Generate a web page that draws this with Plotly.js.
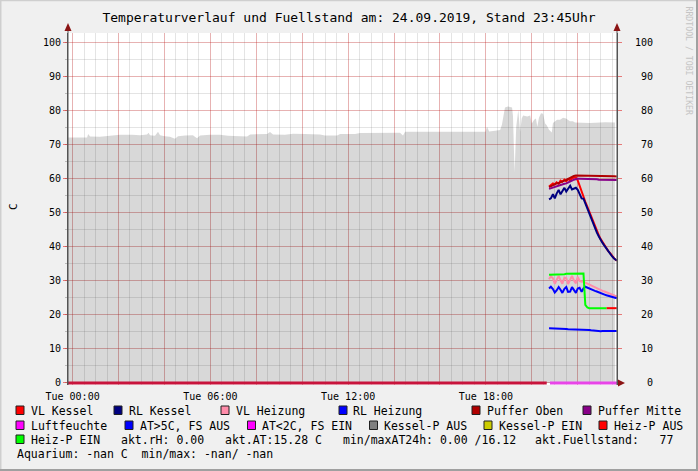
<!DOCTYPE html>
<html><head><meta charset="utf-8">
<script src="https://cdn.plot.ly/plotly-3.0.1.min.js"></script>
<style>html,body{margin:0;padding:0;background:#f0f0f0;}#chart{width:698px;height:471px;}</style>
</head><body><div id="chart"></div>
<script>
// ---------- DATA ----------
const chartTitle = 'Temperaturverlauf und Fuellstand am: 24.09.2019, Stand 23:45Uhr';
const yTitle = 'C';
const watermark = 'RRDTOOL / TOBI OETIKER';

// fill level (grey area), hours of the day
const areaHours = [-0.2,0.32,0.63,0.68,0.76,1.19,1.50,1.85,2.06,2.59,2.94,3.24,3.31,3.37,3.59,3.72,3.81,4.02,4.24,4.46,4.59,4.90,5.24,5.42,5.55,5.98,6.42,6.77,7.29,7.60,7.73,8.16,8.47,8.60,8.73,9.25,9.60,10.12,10.78,10.99,11.52,11.65,12.30,12.52,13.39,14.26,14.39,14.48,15.57,16.88,17.74,17.98,18.05,18.14,18.40,18.62,18.70,18.77,18.83,18.96,19.14,19.18,19.25,19.32,19.41,19.49,19.56,19.62,19.80,19.93,20.00,20.10,20.18,20.24,20.31,20.40,20.49,20.58,20.65,20.75,20.87,20.92,21.10,21.23,21.36,21.49,21.66,21.79,21.88,22.53,23.19,23.62];
const areaLevel = [72.2,72.2,72.2,73.2,72.5,72.4,72.6,72.8,73.0,73.0,72.9,73.1,73.6,72.9,72.7,73.9,72.9,72.6,72.4,71.8,72.6,72.8,72.9,72.0,72.8,73.0,73.0,72.7,72.6,72.5,73.1,73.1,73.2,73.8,73.1,73.0,73.3,73.2,73.1,72.8,72.8,73.2,73.2,73.5,73.6,73.6,72.8,73.9,73.9,74.0,73.9,73.9,75.4,74.0,74.2,74.4,76.0,79.5,81.0,81.3,81.0,78.5,62.0,75.4,80.3,73.9,77.8,78.7,78.4,78.7,76.3,77.4,77.8,75.4,78.0,79.3,79.2,76.3,75.8,74.5,73.7,76.5,77.4,77.4,78.0,77.8,77.0,77.0,76.6,76.5,76.7,76.6];

// temperature lines (5 min samples, hours of the day)
const lineHours = [20.75,20.83,20.92,21.00,21.08,21.17,21.25,21.33,21.42,21.50,21.58,21.67,21.75,21.83,21.92,22.00,22.08,22.17,22.25,22.33,22.42,22.50,22.58,22.67,22.75,22.83,22.92,23.00,23.08,23.17,23.25,23.33,23.42,23.50,23.58,23.70];
const vlKessel   = [57.8,58.3,58.7,58.4,59.0,58.6,59.5,59.2,59.8,59.3,60.0,59.6,60.2,60.4,60.4,59.6,58.0,56.0,54.8,53.3,51.8,50.4,49.1,47.4,45.8,44.6,43.4,42.3,41.4,40.5,39.7,38.8,38.1,37.3,36.7,35.9];
const rlKessel   = [54.0,54.3,55.5,54.3,55.7,56.8,55.5,56.5,57.4,56.3,57.2,58.0,56.9,57.2,57.4,56.8,55.5,54.3,54.2,52.8,51.3,49.9,48.6,47.0,45.3,44.3,43.1,42.0,41.2,40.3,39.5,38.6,38.0,37.2,36.6,36.0];
const vlHeizung  = [30.5,31.4,30.8,29.2,30.3,31.5,30.2,29.2,31.0,30.8,29.1,30.6,31.5,30.2,29.3,31.2,30.0,29.8,29.8,29.5,29.2,28.9,28.6,28.3,28.0,27.8,27.6,27.4,27.1,26.9,26.7,26.4,26.2,25.9,25.7,25.4];
const rlHeizung  = [27.8,28.3,27.6,26.6,27.2,28.2,27.4,26.5,27.7,28.2,26.8,26.9,28.2,27.5,26.5,27.8,28.0,26.8,27.8,28.3,28.0,27.8,27.6,27.4,27.1,26.9,26.6,26.4,26.2,26.0,25.8,25.6,25.4,25.2,25.0,24.9];
const pufferOben = [57.6,57.9,58.3,58.4,58.7,58.8,59.1,59.3,59.5,59.7,60.0,60.3,60.6,60.9,61.0,61.0,61.0,61.0,61.0,61.0,61.0,61.0,61.0,60.9,60.9,60.9,60.9,60.9,60.9,60.8,60.8,60.8,60.8,60.8,60.8,60.7];
const pufferMitte= [57.1,57.3,57.5,57.7,57.8,58.0,58.2,58.4,58.6,58.7,58.9,59.2,59.5,59.8,60.0,60.1,60.1,60.1,60.0,60.0,60.0,60.0,59.9,59.9,59.9,59.9,59.8,59.8,59.8,59.8,59.8,59.7,59.7,59.7,59.7,59.7];
const atAussen   = [16.1,16.1,16.0,16.0,16.0,16.0,15.9,15.9,15.9,15.9,15.8,15.8,15.8,15.8,15.8,15.8,15.8,15.7,15.7,15.7,15.6,15.6,15.5,15.4,15.3,15.2,15.2,15.2,15.3,15.3,15.3,15.3,15.3,15.3,15.3,15.3];
const heizPEin   = [31.8,31.8,31.9,31.9,31.9,32.0,32.0,32.0,32.0,32.1,32.1,32.1,32.1,32.2,32.2,32.2,32.2,32.2,32.2,23.0,22.2,22.0,22.0,22.0,22.0,22.0,22.0,22.0,22.0,22.0,22.0,null,null,null,null,null];
const heizPAus   = [null,null,null,null,null,null,null,null,null,null,null,null,null,null,null,null,null,null,null,null,null,null,null,null,null,null,null,null,null,null,22.0,22.0,22.0,22.0,22.0,22.0];

// zero-valued lines along the bottom
const zeroHours = [-0.2, 20.65];
const zeroLevel = [0, 0];
const luftHours = [20.79, 23.70];
const luftLevel = [0, 0];

// axes
const xTickHours = [0,2,4,6,8,10,12,14,16,18,20,22];
const xTickText  = ['Tue 00:00','','','Tue 06:00','','','Tue 12:00','','','Tue 18:00','',''];
const yTicks = [0,10,20,30,40,50,60,70,80,90,100];

// legend
const legendNames = ['VL Kessel','RL Kessel','VL Heizung','RL Heizung','Puffer Oben','Puffer Mitte',
  'Luftfeuchte','AT>5C, FS AUS','AT<2C, FS EIN','Kessel-P AUS','Kessel-P EIN','Heiz-P AUS','Heiz-P EIN'];
const infoTexts = ['akt.rH: 0.00','akt.AT:15.28 C','min/maxAT24h: 0.00 /16.12','akt.Fuellstand:   77',
  'Aquarium: -nan C  min/max: -nan/ -nan'];

// ---------- STYLE ----------
const C = {
  'VL Kessel':'#ff0000','RL Kessel':'#000080','VL Heizung':'#ff8caa','RL Heizung':'#0000ff',
  'Puffer Oben':'#b00000','Puffer Mitte':'#880088','Luftfeuchte':'#ff00ff','AT>5C, FS AUS':'#0000ff',
  'AT<2C, FS EIN':'#ff00ff','Kessel-P AUS':'#808080','Kessel-P EIN':'#cccc00','Heiz-P AUS':'#ff0000','Heiz-P EIN':'#00ff00'
};
const MONO = 'DejaVu Sans Mono';
const X0 = 68, PW = 549, YB = 385, PH = 352;
function px(x){return (x - X0)/PW;}
function py(y){return (YB - y)/PH;}
const yRange = [-0.6, 102.94];

function ln(x, y, color, w, yaxis){
  return {x:x, y:y, type:'scatter', mode:'lines', line:{color:color, width:w||2}, hoverinfo:'skip',
          connectgaps:false, yaxis:yaxis||'y', showlegend:false};
}

const traces = [
  {x:areaHours, y:areaLevel, type:'scatter', mode:'lines', fill:'tozeroy',
   fillcolor:'rgba(0,0,0,0.153)', line:{width:0, color:'rgba(0,0,0,0)'}, hoverinfo:'skip', showlegend:false},
  ln(lineHours, vlKessel, C['VL Kessel']),
  ln(lineHours, rlKessel, C['RL Kessel']),
  ln(lineHours, vlHeizung, C['VL Heizung']),
  ln(lineHours, rlHeizung, C['RL Heizung']),
  ln(lineHours, pufferOben, C['Puffer Oben']),
  ln(lineHours, pufferMitte, C['Puffer Mitte']),
  ln(lineHours, atAussen, C['AT>5C, FS AUS']),
  ln(lineHours, heizPAus, C['Heiz-P AUS']),
  ln(lineHours, heizPEin, C['Heiz-P EIN']),
  ln(zeroHours, zeroLevel, '#c8143c', 3, 'y2'),
  ln(luftHours, luftLevel, '#e845e8', 3, 'y2')
];

// ---------- DECORATION ----------
const shapes = [];
const annotations = [];
const arrowCol = '#8b1414';
[68, 617].forEach(function(ax){
  shapes.push({type:'line', xref:'paper', yref:'paper', x0:px(ax), x1:px(ax), y0:py(YB), y1:py(28), line:{color:'#555', width:1}});
  shapes.push({type:'path', xref:'paper', yref:'paper',
    path:'M '+px(ax)+' '+py(23)+' L '+px(ax-3.5)+' '+py(31)+' L '+px(ax+3.5)+' '+py(31)+' Z',
    fillcolor:arrowCol, line:{width:0}});
});
shapes.push({type:'path', xref:'paper', yref:'paper',
  path:'M '+px(625)+' '+py(383)+' L '+px(618)+' '+py(379.5)+' L '+px(618)+' '+py(386.5)+' Z',
  fillcolor:arrowCol, line:{width:0}});
shapes.push({type:'rect', xref:'paper', yref:'paper', x0:px(696), x1:px(698), y0:py(471), y1:py(0), fillcolor:'#a0a0a0', line:{width:0}});
shapes.push({type:'rect', xref:'paper', yref:'paper', x0:px(0), x1:px(698), y0:py(471), y1:py(469), fillcolor:'#a0a0a0', line:{width:0}});
shapes.push({type:'rect', xref:'paper', yref:'paper', x0:px(0), x1:px(1.5), y0:py(469), y1:py(0), fillcolor:'#cfcfcf', line:{width:0}});
shapes.push({type:'rect', xref:'paper', yref:'paper', x0:px(0), x1:px(696), y0:py(1.2), y1:py(0), fillcolor:'#cfcfcf', line:{width:0}});

const legendPos = [[16,410],[114,410],[221,410],[339,410],[472,410],[583,410],
  [16,425],[125,425],[247.5,425],[369.5,425],[484,425],[599,425],[16,439]];
function nb(s){return s.replace(/&/g,'&amp;').replace(/</g,'&lt;').replace(/>/g,'&gt;').replace(/ /g,'\u00a0');}
legendNames.forEach(function(name, i){
  const p = legendPos[i];
  shapes.push({type:'rect', xref:'paper', yref:'paper', x0:px(p[0]), x1:px(p[0]+8), y0:py(p[1]+4.5), y1:py(p[1]-4),
    fillcolor:C[name], line:{color:'#202020', width:1}});
  annotations.push({xref:'paper', yref:'paper', x:px(p[0]+13.5), y:py(p[1]+0.8), xanchor:'left', yanchor:'middle',
    text:nb(name), showarrow:false, borderpad:0, font:{family:MONO, size:11.5, color:'#000'}});
});
const infoPos = [[120,439],[224,439],[342,439],[534,439],[16,453]];
infoTexts.forEach(function(t, i){
  annotations.push({xref:'paper', yref:'paper', x:px(infoPos[i][0]), y:py(infoPos[i][1]+0.8), xanchor:'left', yanchor:'middle',
    text:nb(t), showarrow:false, borderpad:0, font:{family:MONO, size:11.5, color:'#000'}});
});
annotations.push({xref:'paper', yref:'paper', x:px(14), y:py(207), text:yTitle, textangle:-90, showarrow:false,
  xanchor:'center', yanchor:'middle', font:{family:MONO, size:11, color:'#000'}});
annotations.push({xref:'paper', yref:'paper', x:px(688.5), y:py(61), text:nb(watermark), textangle:90, showarrow:false,
  xanchor:'center', yanchor:'middle', font:{family:MONO, size:8.2, color:'#c4c4c4'}});

const redGrid = 'rgba(240,0,0,0.22)';
const greyGrid = 'rgba(120,120,120,0.2)';
const y2Text = yTicks.map(function(v){ let s = String(v); while (s.length < 3) s = '\u00a0' + s; return s; });

const layout = {
  width:698, height:471,
  margin:{l:68, r:81, t:33, b:86, pad:0},
  paper_bgcolor:'#f0f0f0', plot_bgcolor:'#ffffff',
  font:{family:MONO, size:10, color:'#000'},
  title:{text:chartTitle, x:0.5, xref:'container', xanchor:'center', y:1-17/471, yref:'container', yanchor:'middle',
         font:{family:MONO, size:13, color:'#000'}},
  showlegend:false,
  xaxis:{range:[-0.2,23.71], tickmode:'array', tickvals:xTickHours, ticktext:xTickText,
    showgrid:true, gridcolor:redGrid, gridwidth:1, zeroline:false, showline:false, ticks:'',
    ticklabelstandoff:4,
    tickfont:{family:MONO, size:10, color:'#000'}, fixedrange:true,
    minor:{tickmode:'linear', tick0:0, dtick:0.5, showgrid:true, gridcolor:greyGrid, gridwidth:1}},
  yaxis:{range:yRange, tickmode:'array', tickvals:yTicks, ticktext:yTicks.map(String),
    showgrid:true, gridcolor:redGrid, gridwidth:1, zeroline:false, showline:true, linecolor:'#555', linewidth:1,
    ticks:'outside', ticklen:4, tickcolor:'rgba(220,0,0,0.5)', tickfont:{family:MONO, size:10, color:'#000'},
    fixedrange:true,
    minor:{tickmode:'linear', tick0:0, dtick:5, showgrid:true, gridcolor:greyGrid, gridwidth:1, ticks:'outside', ticklen:2, tickcolor:'#bbbbbb'}},
  yaxis2:{range:yRange, overlaying:'y', side:'right', anchor:'x', tickmode:'array', tickvals:yTicks, ticktext:y2Text,
    showgrid:false, zeroline:false, showline:true, linecolor:'#555', linewidth:1,
    ticks:'outside', ticklen:4, tickcolor:'rgba(220,0,0,0.5)', ticklabelstandoff:11,
    tickfont:{family:MONO, size:10, color:'#000'}, fixedrange:true},
  shapes:shapes,
  annotations:annotations
};

Plotly.newPlot('chart', traces, layout, {staticPlot:true, displayModeBar:false});
</script>
</body></html>
